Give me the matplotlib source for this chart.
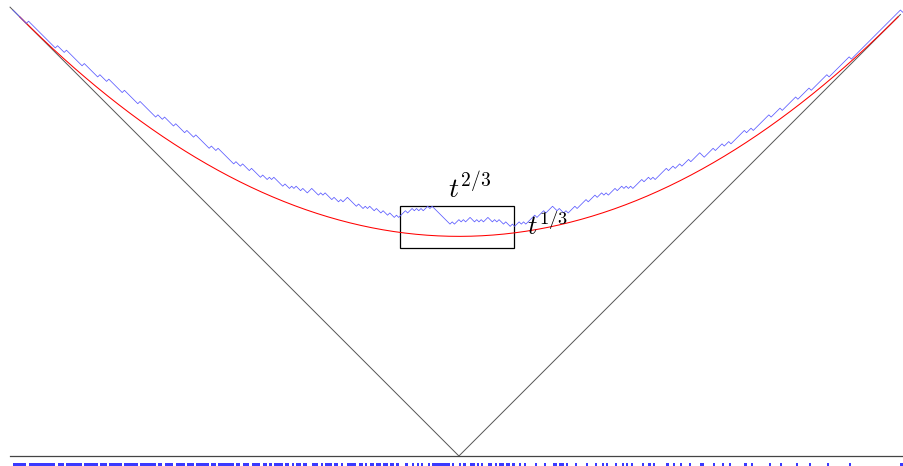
import numpy as np
import matplotlib.pyplot as plt
from matplotlib.patches import Rectangle

plt.rcParams['mathtext.fontset'] = 'cm'

# TASEP configuration at time t, sites x = -200 .. 199 (1 = particle)
x0 = -200
sites = ("11111101111111111110"
         "11101111111011111101"
         "11011111101111110111"
         "11110110111101111011"
         "10111111011011111110"
         "11011101111011010111"
         "10110101101100111010"
         "11101101001111011010"
         "11011011011010001001"
         "01010010111111110100"
         "10100110101001101011"
         "01101001010000100010"
         "00110110100010000100"
         "01001010001001010100"
         "00100101000001001001"
         "00010000110000100010"
         "01000000100100000001"
         "00001000000100000100"
         "00000100000000010000"
         "00000000000000000010")
t = 197.0

occ = np.array([int(c) for c in sites])
xs = x0 + np.arange(len(occ) + 1)
# height function: particle -> step down, hole -> step up
h = -x0 + np.concatenate([[0], np.cumsum(1 - 2 * occ)])

fig = plt.figure(figsize=(9.04, 4.66), dpi=100)
ax = fig.add_axes([0, 0, 1, 1])
ax.set_xlim(-205.8, 199.6)
ax.set_ylim(-4.48, 204.5)
ax.axis('off')

# initial wedge |x|
ax.plot([-201.3, 0, 198], [201.3, 0, 198], color='#555555', lw=0.7)
# baseline
ax.plot([-201.3, 198.5], [0, 0], color='#444444', lw=0.9)

# limit shape
xr = np.linspace(-t, t, 400)
ax.plot(xr, (t**2 + xr**2) / (2 * t), color='red', lw=0.75)

# height function
ax.plot(xs, h, color='#5a5aff', lw=0.55)

# particles
pos = xs[:-1][occ == 1]
ax.broken_barh([(p, 1.0) for p in pos], (-4.5, 1.4), color='#3a3aff', lw=0)

# fluctuation window
ax.add_patch(Rectangle((-26.2, 93.4), 50.9, 18.7, fill=False, ec='black', lw=0.9))
ax.text(4.8, 113.2, r'$t^{2/3}$', fontsize=20, ha='center', va='bottom')
ax.text(30.5, 96.6, r'$t^{1/3}$', fontsize=19, ha='left', va='bottom')

fig.savefig('out.png')
